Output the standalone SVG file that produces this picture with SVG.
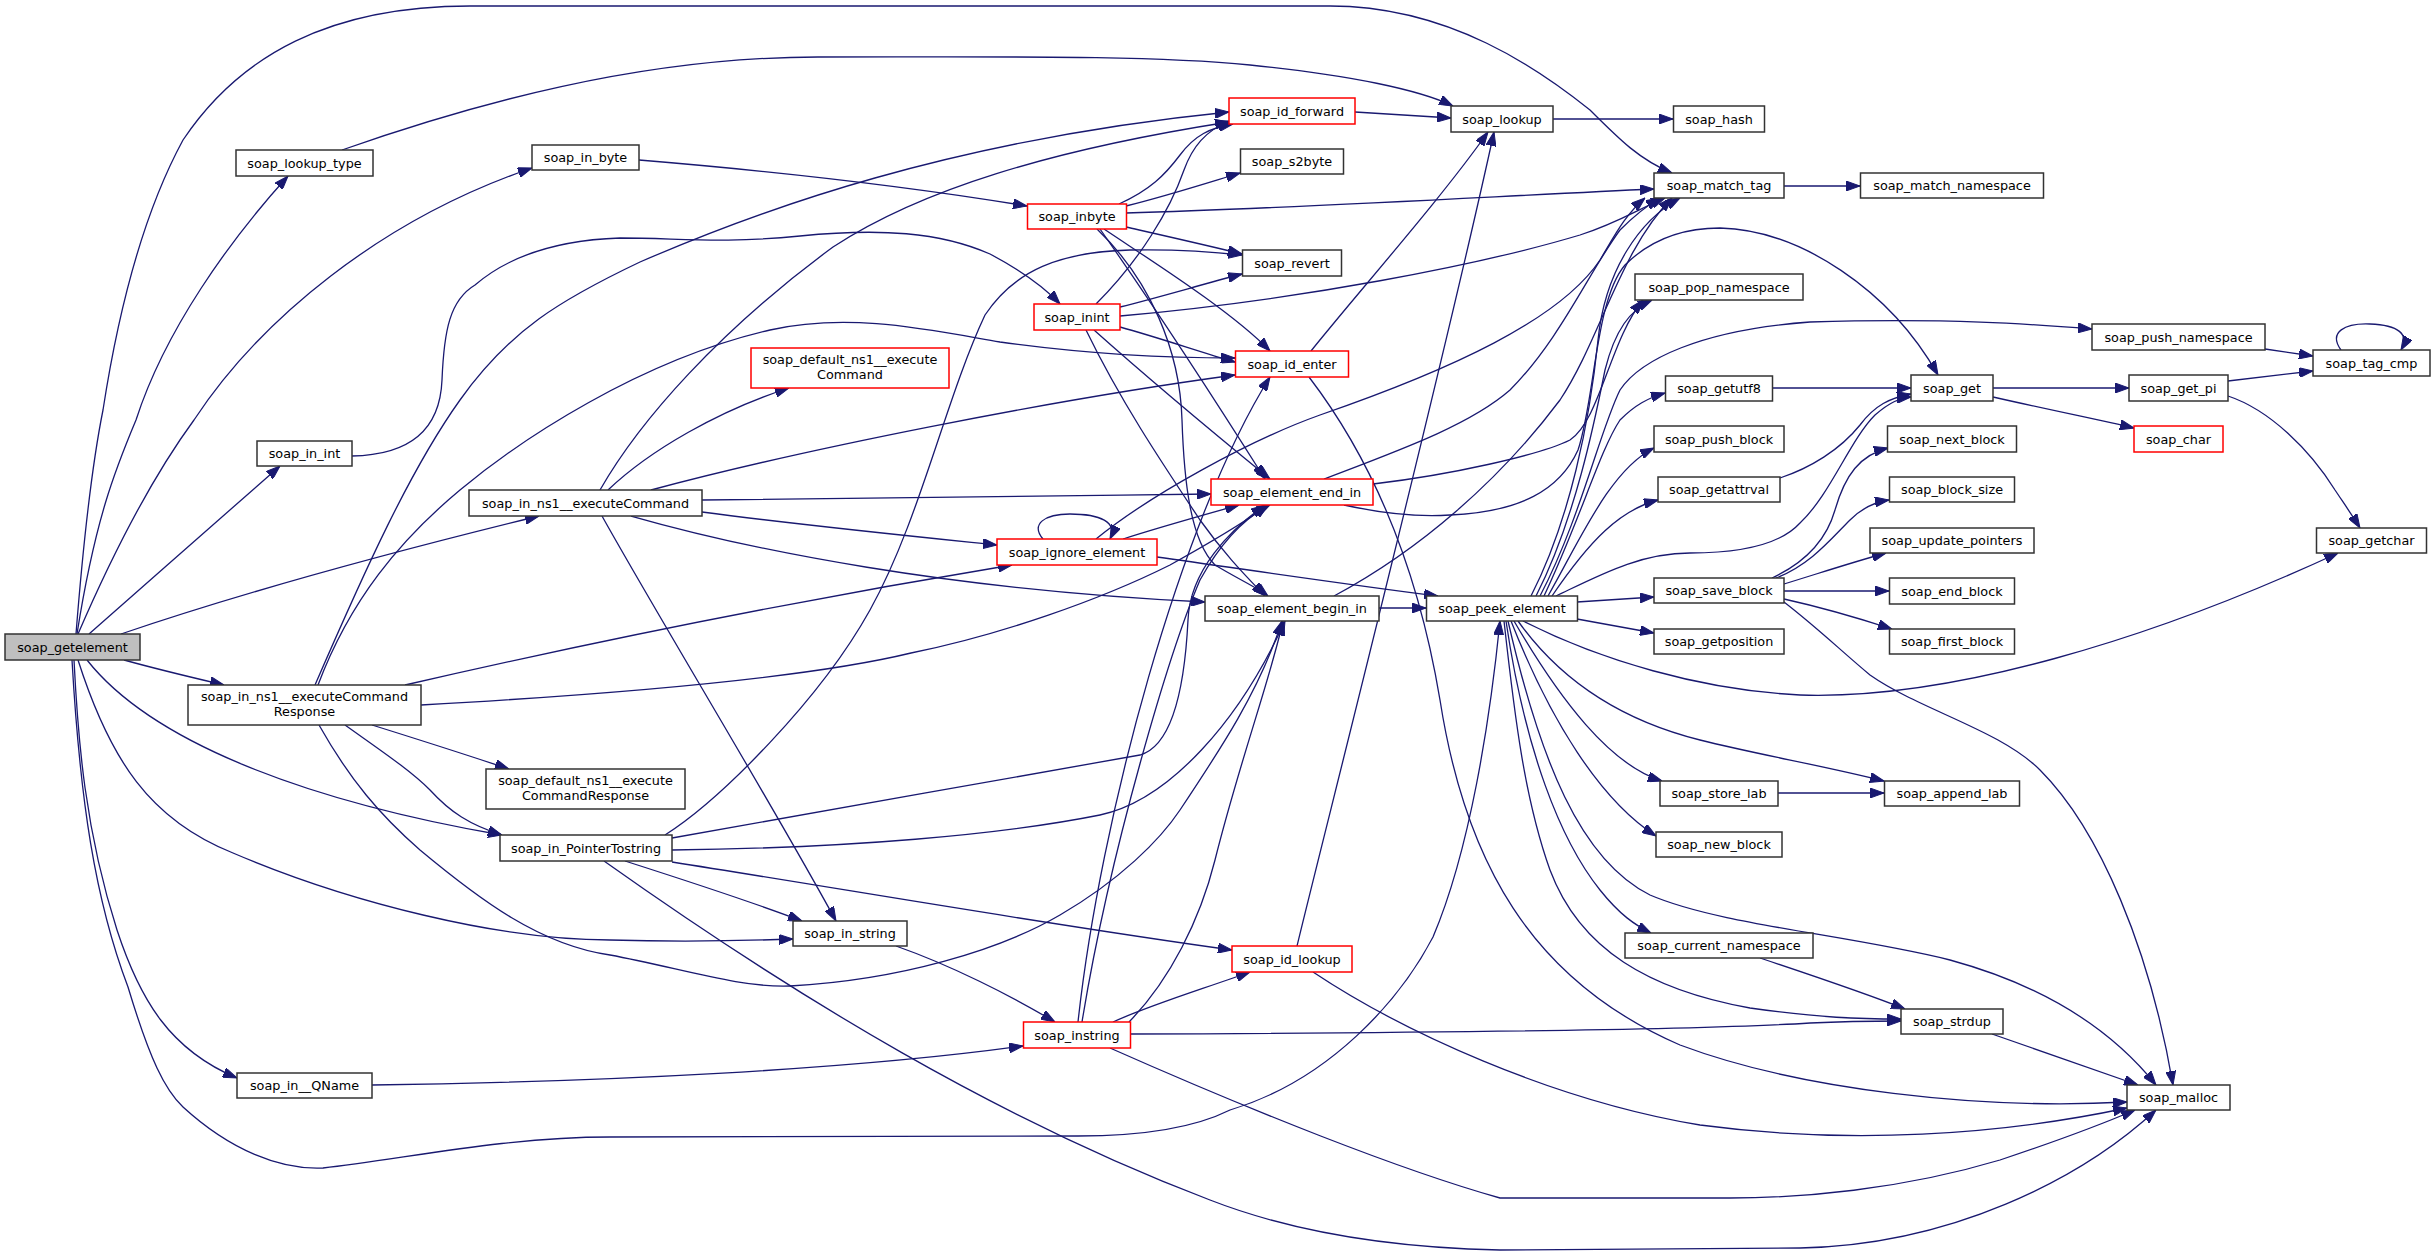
<svg xmlns="http://www.w3.org/2000/svg" width="2435" height="1255" viewBox="0 0 2435 1255">
<style>
.n rect{fill:#fff;stroke:#333;stroke-width:1.5}
.r rect{stroke:#f00}
.g rect{fill:#bfbfbf}
text{font-family:"DejaVu Sans",sans-serif;font-size:12.8px;text-anchor:middle;fill:#000}
.e path{fill:none;stroke:#191970;stroke-width:1.3;marker-end:url(#a)}
</style>
<defs>
<marker id="a" markerWidth="14" markerHeight="10" refX="14" refY="5" orient="auto" markerUnits="userSpaceOnUse"><path d="M0,0 L14,5 L0,10 Z" fill="#191970" stroke="#191970" stroke-width="1"/></marker>
</defs>
<rect width="2435" height="1255" fill="#fff"/>
<g class="e" id="connectors">
<path d="M76,634 C85,520 95,450 103,410 C120,300 145,210 183,140 C240,55 330,6 470,6 L1330,6 C1450,6 1540,70 1590,110 C1620,140 1640,160 1672,173"/>
<path d="M77,634 C95,520 115,470 136,420 C165,330 230,240 288,176"/>
<path d="M78,634 C110,560 150,480 194,420 C260,320 380,220 532,168"/>
<path d="M89,634 C150,580 230,510 280,466"/>
<path d="M121,634 C250,590 400,550 539,516"/>
<path d="M124,660 C160,670 190,677 224,685"/>
<path d="M87,660 C150,740 300,800 502,835"/>
<path d="M78,660 C110,760 150,820 233,853 C350,903 500,940 610,940 C680,942 740,941 793,939"/>
<path d="M74,660 C78,740 85,830 117,930 C140,1000 170,1050 237,1078"/>
<path d="M72,660 C80,800 95,900 128,987 C150,1060 165,1090 183,1107 C230,1150 280,1170 323,1168 C400,1160 500,1137 610,1137 L1078,1136 C1150,1136 1200,1125 1230,1110 C1330,1080 1400,1000 1433,937 C1470,850 1490,720 1500,621"/>
<path d="M342,150 C470,105 640,57 818,57 C1000,57 1150,55 1250,65 C1350,75 1420,90 1453,106"/>
<path d="M639,160 C760,170 900,185 1027,206"/>
<path d="M352,456 C410,455 440,430 442,380 C444,330 450,300 475,285 C510,255 560,240 620,238 C680,238 720,244 800,236 C880,228 940,232 990,254 C1020,270 1045,288 1060,304"/>
<path d="M600,490 C640,420 720,330 833,247 C920,190 1050,150 1229,122"/>
<path d="M608,490 C650,450 720,410 789,388"/>
<path d="M651,490 C800,450 1050,400 1235,375"/>
<path d="M702,500 C900,498 1050,496 1211,494"/>
<path d="M702,512 C800,525 900,535 997,545"/>
<path d="M631,516 C750,550 950,590 1205,602"/>
<path d="M602,516 C660,620 770,800 836,921"/>
<path d="M315,685 C365,570 410,470 460,400 C510,330 560,300 640,262 C760,210 950,140 1229,112"/>
<path d="M318,685 C350,600 400,540 460,490 C520,440 640,360 770,330 C850,312 930,330 1000,342 C1100,356 1180,358 1235,358"/>
<path d="M405,685 C600,640 800,600 1012,565"/>
<path d="M421,705 C600,695 800,680 911,653 C1000,635 1100,600 1170,565 C1215,540 1245,522 1268,505"/>
<path d="M372,725 C420,740 470,756 509,769"/>
<path d="M345,725 C380,750 410,770 430,790 C450,812 470,825 502,835"/>
<path d="M319,725 C350,780 380,815 420,850 C480,900 540,945 610,955 C680,968 740,988 790,986 C900,980 1000,950 1060,915 C1120,880 1160,840 1180,810 C1220,750 1260,690 1282,621"/>
<path d="M665,835 C720,800 820,700 870,610 C920,520 945,400 985,315 C1015,270 1060,252 1130,250 C1180,249 1215,252 1242,255"/>
<path d="M672,838 C800,815 1000,780 1140,755 C1175,745 1185,680 1188,620 C1190,570 1230,530 1265,505"/>
<path d="M672,850 C850,848 1000,835 1100,815 C1170,800 1240,720 1285,621"/>
<path d="M625,861 C700,885 760,905 802,921"/>
<path d="M672,862 C850,890 1050,925 1232,950"/>
<path d="M604,861 C800,1000 1000,1120 1210,1200 C1300,1235 1400,1248 1500,1250 L1800,1248 C1950,1245 2080,1180 2156,1110"/>
<path d="M896,946 C950,965 1010,995 1055,1022"/>
<path d="M372,1085 C600,1082 850,1070 1023,1046"/>
<path d="M1119,204 C1150,190 1165,175 1180,155 C1195,135 1210,128 1233,124"/>
<path d="M1126,206 C1170,195 1210,182 1240,173"/>
<path d="M1126,213 C1300,208 1500,196 1654,189"/>
<path d="M1126,227 C1170,237 1210,246 1242,254"/>
<path d="M1104,229 C1150,260 1230,310 1270,351"/>
<path d="M1100,229 C1150,300 1215,400 1265,479"/>
<path d="M1097,229 C1150,280 1180,350 1182,420 C1184,480 1190,540 1215,565 C1240,580 1258,588 1268,596"/>
<path d="M1096,304 C1140,260 1170,210 1184,170 C1192,148 1205,130 1231,121"/>
<path d="M1120,307 C1160,297 1200,285 1242,274"/>
<path d="M1120,316 C1300,300 1480,265 1580,235 C1620,222 1640,208 1665,198"/>
<path d="M1120,327 C1160,338 1200,352 1235,362"/>
<path d="M1094,330 C1150,380 1210,430 1270,479"/>
<path d="M1086,330 C1120,400 1160,460 1200,520 C1225,555 1245,575 1265,596"/>
<path d="M1078,1022 C1100,820 1180,520 1270,377"/>
<path d="M1082,1022 C1110,850 1170,650 1200,580 C1225,535 1250,515 1270,505"/>
<path d="M1129,1022 C1170,980 1200,920 1215,860 C1240,760 1270,680 1283,621"/>
<path d="M1113,1022 C1150,1005 1200,990 1250,972"/>
<path d="M1130,1034 C1400,1033 1700,1030 1810,1023 C1850,1021 1880,1021 1901,1021"/>
<path d="M1110,1048 C1250,1110 1400,1170 1500,1198 L1730,1198 C1800,1198 1900,1190 2000,1160 C2060,1140 2100,1125 2135,1110"/>
<path d="M1043,539 C1030,524 1045,514 1070,514 C1100,514 1118,522 1110,539"/>
<path d="M1096,539 C1150,495 1250,440 1320,415 C1450,370 1560,320 1600,260 C1615,235 1625,215 1645,198"/>
<path d="M1123,539 C1160,527 1200,516 1239,505"/>
<path d="M1157,557 C1250,570 1350,585 1438,596"/>
<path d="M1355,112 C1390,114 1420,116 1451,118"/>
<path d="M1311,351 C1360,290 1440,200 1488,132"/>
<path d="M1309,377 C1380,470 1420,580 1440,700 C1465,860 1530,980 1680,1045 C1800,1090 1980,1110 2127,1102"/>
<path d="M1297,946 C1320,850 1440,380 1494,132"/>
<path d="M1313,972 C1400,1030 1550,1100 1700,1125 C1850,1145 2000,1135 2127,1108"/>
<path d="M1553,119 L1673,119"/>
<path d="M1784,186 L1860,186"/>
<path d="M1324,479 C1400,450 1470,425 1510,390 C1560,340 1590,270 1620,230 C1635,215 1648,205 1660,198"/>
<path d="M1373,484 C1450,475 1540,455 1570,440 C1600,420 1610,340 1643,300"/>
<path d="M1344,505 C1380,513 1420,517 1450,515 C1520,512 1560,490 1578,450 C1595,400 1595,300 1625,265 C1655,235 1690,228 1720,228 C1800,230 1890,290 1938,375"/>
<path d="M1379,608 L1426,608"/>
<path d="M1334,596 C1420,550 1500,480 1560,400 C1600,340 1620,250 1672,198"/>
<path d="M1531,596 C1570,520 1590,420 1598,340 C1605,270 1640,220 1680,198"/>
<path d="M1536,596 C1575,520 1595,420 1605,370 C1615,330 1630,310 1652,300"/>
<path d="M1540,596 C1580,520 1600,430 1620,390 C1640,360 1700,330 1810,322 C1950,318 2030,324 2092,329"/>
<path d="M1544,596 C1580,520 1600,450 1620,420 C1635,405 1648,398 1665,393"/>
<path d="M1548,596 C1580,540 1610,470 1654,448"/>
<path d="M1552,596 C1590,540 1620,510 1658,500"/>
<path d="M1556,596 C1600,575 1640,553 1690,553 C1740,553 1780,545 1800,523 C1830,495 1850,440 1875,415 C1890,402 1900,398 1911,397"/>
<path d="M1577,602 L1654,597"/>
<path d="M1577,619 L1654,633"/>
<path d="M1523,621 C1600,660 1700,690 1800,695 C1950,700 2150,640 2338,553"/>
<path d="M1514,621 C1560,700 1610,765 1662,781"/>
<path d="M1518,621 C1560,680 1620,720 1700,740 C1760,755 1820,765 1884,781"/>
<path d="M1511,621 C1550,720 1600,800 1656,836"/>
<path d="M1506,621 C1525,750 1560,840 1600,890 C1620,915 1635,925 1651,933"/>
<path d="M1504,621 C1515,720 1525,800 1550,870 C1580,950 1650,990 1750,1008 C1820,1018 1860,1019 1901,1019"/>
<path d="M1508,621 C1540,760 1580,860 1650,895 C1720,925 1850,935 1950,960 C2060,990 2120,1040 2156,1085"/>
<path d="M1772,388 L1911,388"/>
<path d="M1780,478 C1810,468 1840,450 1860,425 C1875,405 1890,398 1911,394"/>
<path d="M1993,388 L2129,388"/>
<path d="M1993,397 C2050,410 2100,420 2134,428"/>
<path d="M2265,349 L2313,356"/>
<path d="M2228,381 L2313,371"/>
<path d="M2341,350 C2328,332 2345,323 2370,324 C2398,325 2410,334 2401,350"/>
<path d="M2228,396 C2270,410 2310,450 2335,490 C2345,505 2352,515 2360,528"/>
<path d="M1772,578 C1800,565 1825,545 1835,510 C1845,475 1860,455 1888,448"/>
<path d="M1776,578 C1810,565 1830,540 1850,520 C1862,508 1875,502 1889,500"/>
<path d="M1784,584 C1820,573 1850,563 1886,553"/>
<path d="M1784,591 L1889,591"/>
<path d="M1784,599 C1820,607 1855,617 1892,629"/>
<path d="M1784,602 C1820,630 1840,650 1870,675 C1920,710 2000,730 2040,770 C2100,830 2150,950 2173,1085"/>
<path d="M1778,793 L1884,793"/>
<path d="M1760,958 C1820,978 1870,995 1905,1009"/>
<path d="M1992,1034 L2138,1085"/>
</g>
<g id="soap_getelement" class="n g"><rect x="5" y="634" width="135" height="26"/><text x="72.5" y="651.6">soap_getelement</text></g>
<g id="soap_lookup_type" class="n"><rect x="236" y="150" width="137" height="26"/><text x="304.5" y="167.6">soap_lookup_type</text></g>
<g id="soap_in_byte" class="n"><rect x="532" y="145" width="107" height="25"/><text x="585.5" y="162.1">soap_in_byte</text></g>
<g id="soap_in_int" class="n"><rect x="257" y="441" width="95" height="25"/><text x="304.5" y="458.1">soap_in_int</text></g>
<g id="soap_in_ns1__executeCommand" class="n"><rect x="469" y="490" width="233" height="26"/><text x="585.5" y="507.6">soap_in_ns1__executeCommand</text></g>
<g id="soap_in_ns1__executeCommandResponse" class="n"><rect x="188" y="685" width="233" height="40"/><text x="304.5" y="701">soap_in_ns1__executeCommand</text><text x="304.5" y="716">Response</text></g>
<g id="soap_default_ns1__executeCommand" class="n r"><rect x="751" y="348" width="198" height="40"/><text x="850" y="364">soap_default_ns1__execute</text><text x="850" y="379">Command</text></g>
<g id="soap_default_ns1__executeCommandResponse" class="n"><rect x="486" y="769" width="199" height="40"/><text x="585.5" y="785">soap_default_ns1__execute</text><text x="585.5" y="800">CommandResponse</text></g>
<g id="soap_in_PointerTostring" class="n"><rect x="500" y="835" width="172" height="26"/><text x="586" y="852.6">soap_in_PointerTostring</text></g>
<g id="soap_in__QName" class="n"><rect x="237" y="1073" width="135" height="25"/><text x="304.5" y="1090.1">soap_in__QName</text></g>
<g id="soap_in_string" class="n"><rect x="793" y="921" width="114" height="25"/><text x="850" y="938.1">soap_in_string</text></g>
<g id="soap_instring" class="n r"><rect x="1023.5" y="1022" width="107" height="26"/><text x="1077" y="1039.6">soap_instring</text></g>
<g id="soap_inbyte" class="n r"><rect x="1027.5" y="204" width="99" height="25"/><text x="1077" y="221.1">soap_inbyte</text></g>
<g id="soap_inint" class="n r"><rect x="1034" y="304" width="86" height="26"/><text x="1077" y="321.6">soap_inint</text></g>
<g id="soap_ignore_element" class="n r"><rect x="997" y="539" width="160" height="26"/><text x="1077" y="556.6">soap_ignore_element</text></g>
<g id="soap_id_forward" class="n r"><rect x="1229" y="98" width="126" height="26"/><text x="1292" y="115.6">soap_id_forward</text></g>
<g id="soap_s2byte" class="n"><rect x="1240.5" y="149" width="103" height="25"/><text x="1292" y="166.1">soap_s2byte</text></g>
<g id="soap_revert" class="n"><rect x="1242.5" y="250" width="99" height="26"/><text x="1292" y="267.6">soap_revert</text></g>
<g id="soap_id_enter" class="n r"><rect x="1235.5" y="351" width="113" height="26"/><text x="1292" y="368.6">soap_id_enter</text></g>
<g id="soap_element_end_in" class="n r"><rect x="1211" y="479" width="162" height="26"/><text x="1292" y="496.6">soap_element_end_in</text></g>
<g id="soap_element_begin_in" class="n"><rect x="1205" y="596" width="174" height="25"/><text x="1292" y="613.1">soap_element_begin_in</text></g>
<g id="soap_id_lookup" class="n r"><rect x="1232" y="946" width="120" height="26"/><text x="1292" y="963.6">soap_id_lookup</text></g>
<g id="soap_lookup" class="n"><rect x="1451" y="106" width="102" height="26"/><text x="1502" y="123.6">soap_lookup</text></g>
<g id="soap_peek_element" class="n"><rect x="1426.5" y="596" width="151" height="25"/><text x="1502" y="613.1">soap_peek_element</text></g>
<g id="soap_hash" class="n"><rect x="1673.5" y="106" width="91" height="26"/><text x="1719" y="123.6">soap_hash</text></g>
<g id="soap_match_tag" class="n"><rect x="1654" y="173" width="130" height="25"/><text x="1719" y="190.1">soap_match_tag</text></g>
<g id="soap_pop_namespace" class="n"><rect x="1635" y="274" width="168" height="26"/><text x="1719" y="291.6">soap_pop_namespace</text></g>
<g id="soap_getutf8" class="n"><rect x="1665.5" y="376" width="107" height="25"/><text x="1719" y="393.1">soap_getutf8</text></g>
<g id="soap_push_block" class="n"><rect x="1654" y="426" width="130" height="26"/><text x="1719" y="443.6">soap_push_block</text></g>
<g id="soap_getattrval" class="n"><rect x="1658" y="477" width="122" height="25"/><text x="1719" y="494.1">soap_getattrval</text></g>
<g id="soap_save_block" class="n"><rect x="1654" y="578" width="130" height="25"/><text x="1719" y="595.1">soap_save_block</text></g>
<g id="soap_getposition" class="n"><rect x="1654" y="629" width="130" height="25"/><text x="1719" y="646.1">soap_getposition</text></g>
<g id="soap_store_lab" class="n"><rect x="1660" y="781" width="118" height="25"/><text x="1719" y="798.1">soap_store_lab</text></g>
<g id="soap_new_block" class="n"><rect x="1656" y="832" width="126" height="25"/><text x="1719" y="849.1">soap_new_block</text></g>
<g id="soap_current_namespace" class="n"><rect x="1625" y="933" width="188" height="25"/><text x="1719" y="950.1">soap_current_namespace</text></g>
<g id="soap_match_namespace" class="n"><rect x="1860.5" y="173" width="183" height="25"/><text x="1952" y="190.1">soap_match_namespace</text></g>
<g id="soap_get" class="n"><rect x="1911" y="375" width="82" height="26"/><text x="1952" y="392.6">soap_get</text></g>
<g id="soap_next_block" class="n"><rect x="1887.5" y="426" width="129" height="26"/><text x="1952" y="443.6">soap_next_block</text></g>
<g id="soap_block_size" class="n"><rect x="1889.5" y="477" width="125" height="25"/><text x="1952" y="494.1">soap_block_size</text></g>
<g id="soap_update_pointers" class="n"><rect x="1870" y="528" width="164" height="25"/><text x="1952" y="545.1">soap_update_pointers</text></g>
<g id="soap_end_block" class="n"><rect x="1889.5" y="578" width="125" height="26"/><text x="1952" y="595.6">soap_end_block</text></g>
<g id="soap_first_block" class="n"><rect x="1889.5" y="629" width="125" height="25"/><text x="1952" y="646.1">soap_first_block</text></g>
<g id="soap_append_lab" class="n"><rect x="1884.5" y="781" width="135" height="25"/><text x="1952" y="798.1">soap_append_lab</text></g>
<g id="soap_strdup" class="n"><rect x="1901" y="1009" width="102" height="25"/><text x="1952" y="1026.1">soap_strdup</text></g>
<g id="soap_push_namespace" class="n"><rect x="2092" y="324" width="173" height="26"/><text x="2178.5" y="341.6">soap_push_namespace</text></g>
<g id="soap_get_pi" class="n"><rect x="2129" y="375" width="99" height="26"/><text x="2178.5" y="392.6">soap_get_pi</text></g>
<g id="soap_char" class="n r"><rect x="2134" y="426" width="89" height="26"/><text x="2178.5" y="443.6">soap_char</text></g>
<g id="soap_malloc" class="n"><rect x="2127" y="1085" width="103" height="25"/><text x="2178.5" y="1102.1">soap_malloc</text></g>
<g id="soap_tag_cmp" class="n"><rect x="2313" y="350" width="117" height="26"/><text x="2371.5" y="367.6">soap_tag_cmp</text></g>
<g id="soap_getchar" class="n"><rect x="2316.5" y="528" width="110" height="25"/><text x="2371.5" y="545.1">soap_getchar</text></g>
</svg>
